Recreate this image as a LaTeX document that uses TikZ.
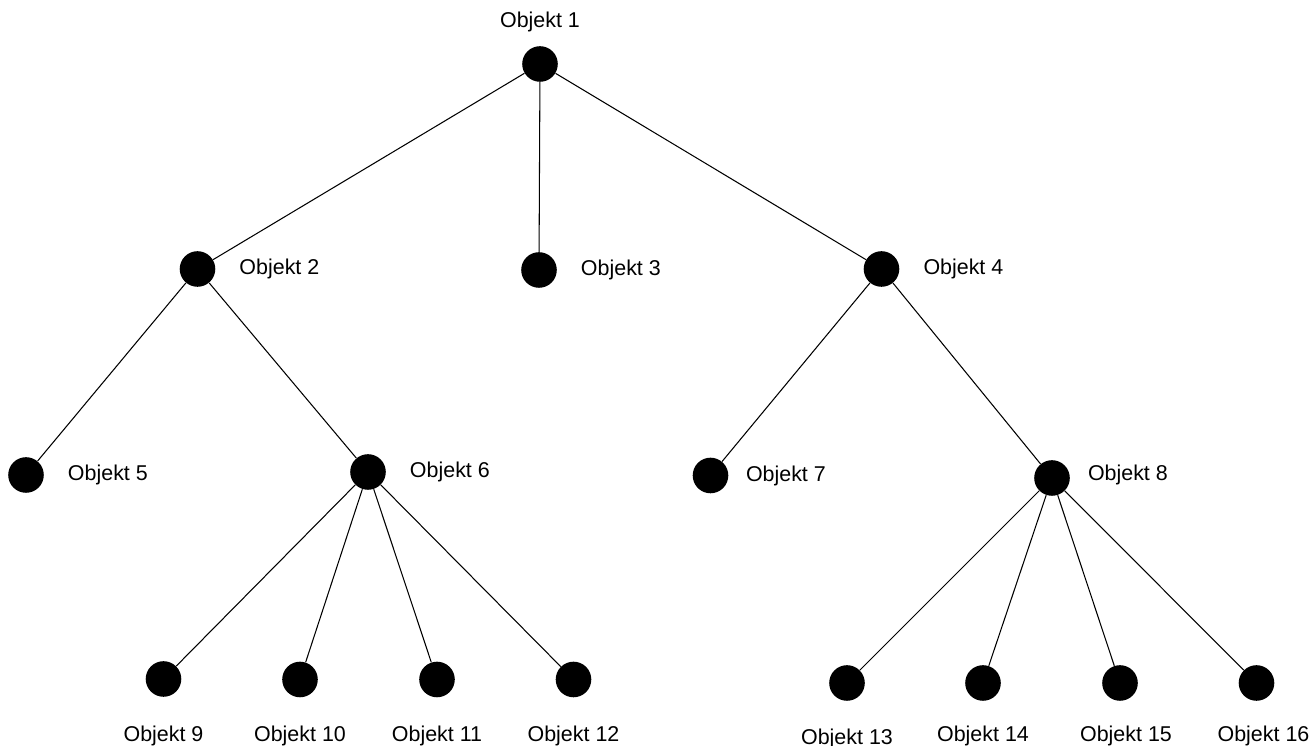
\documentclass[tikz,border=0pt]{standalone}
\usepackage{fontspec}
\setmainfont{Liberation Sans}
\usetikzlibrary{positioning}

\begin{document}
\begin{tikzpicture}[
  x=0.02cm, y=0.02cm,
  obj/.style={circle, fill=black, inner sep=0pt, minimum size=0.712cm},
  lbl/.style={inner sep=0pt, font=\fontsize{12.2}{14.6}\selectfont},
  link/.style={line width=0.6pt},
]
\useasboundingbox (0,0) rectangle (1313,746);

% Objects
\node[obj] (n1) at (540,682) {};
\node[obj] (n2) at (197.5,477) {};
\node[obj] (n3) at (539,476) {};
\node[obj] (n4) at (881.5,477) {};
\node[obj] (n5) at (26,271) {};
\node[obj] (n6) at (368,274) {};
\node[obj] (n7) at (710.5,270.5) {};
\node[obj] (n8) at (1052,268) {};
\node[obj] (n9) at (163.5,67) {};
\node[obj] (n10) at (300,66.5) {};
\node[obj] (n11) at (437,66.5) {};
\node[obj] (n12) at (573.5,66.5) {};
\node[obj] (n13) at (847,63) {};
\node[obj] (n14) at (983,63) {};
\node[obj] (n15) at (1120,63) {};
\node[obj] (n16) at (1256.5,63) {};

% Labels
\node[lbl, above=0.28cm of n1] (l1) {Objekt 1};
\foreach \n in {2,...,6} {
  \node[lbl, right=0.47cm of n\n] (l\n) {Objekt \n};
}
\node[lbl, right=0.34cm of n7] (l7) {Objekt 7};
\node[lbl, right=0.35cm of n8, yshift=0.06cm] (l8) {Objekt 8};
\foreach \n in {9,...,12} {
  \node[lbl, below=0.56cm of n\n] (l\n) {Objekt \n};
}
\node[lbl, below=0.54cm of n13] (l13) {Objekt 13};
\node[lbl, below=0.48cm of n14] (l14) {Objekt 14};
\node[lbl, below=0.48cm of n15, xshift=0.12cm] (l15) {Objekt 15};
\node[lbl, below=0.48cm of n16, xshift=0.14cm] (l16) {Objekt 16};

% Connections
\foreach \a/\b in {1/2, 1/3, 1/4, 2/5, 2/6, 4/7, 4/8, 6/9, 6/10, 6/11, 6/12, 8/13, 8/14, 8/15, 8/16} {
  \draw[link] (n\a) -- (n\b);
}
\end{tikzpicture}
\end{document}
